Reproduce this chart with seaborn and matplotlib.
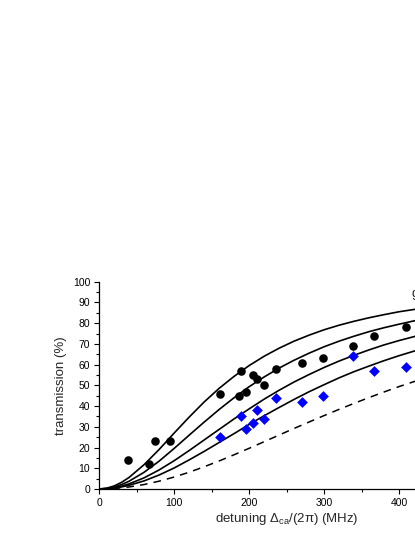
import matplotlib
matplotlib.use("Agg")
import matplotlib.pyplot as plt
import seaborn as sns
from matplotlib.ticker import MultipleLocator

# ---- data ----
curve_x = [0, 10, 20, 30, 40, 60, 80, 100, 120, 140, 160, 180, 200, 220, 240,
           260, 280, 300, 320, 340, 360, 380, 400, 420, 440]
curve1 = [0, 0.37, 1.45, 3.2, 5.55, 11.7, 19.0, 26.9, 34.6, 41.9, 48.5, 54.3, 59.5,
          64.0, 67.9, 71.3, 74.2, 76.8, 79.0, 80.9, 82.6, 84.1, 85.5, 86.6, 87.7]
curve2 = [0, 0.24, 0.96, 2.14, 3.74, 8.03, 13.4, 19.5, 25.9, 32.2, 38.3, 44.0, 49.3,
          54.0, 58.3, 62.1, 65.5, 68.6, 71.3, 73.7, 75.9, 77.8, 79.5, 81.1, 82.4]
curve3 = [0, 0.16, 0.63, 1.40, 2.46, 5.36, 9.16, 13.6, 18.5, 23.6, 28.7, 33.8, 38.6,
          43.3, 47.6, 51.6, 55.2, 58.6, 61.7, 64.5, 67.1, 69.5, 71.6, 73.5, 75.3]
curve4 = [0, 0.11, 0.45, 1.0, 1.77, 3.9, 6.72, 10.1, 14.0, 18.1, 22.4, 26.7, 31.1,
          35.3, 39.3, 43.2, 46.9, 50.3, 53.6, 56.6, 59.3, 61.9, 64.3, 66.5, 68.6]
curve_dashed = [0, 0.06, 0.24, 0.55, 0.97, 2.15, 3.76, 5.75, 8.07, 10.7, 13.5, 16.5, 19.6,
                22.8, 26.0, 29.2, 32.3, 35.4, 38.4, 41.3, 44.1, 46.8, 49.4, 51.8, 54.1]

black_x = [38, 66, 74, 94, 161, 186, 189, 196, 205, 210, 220, 236, 270, 299, 339, 366, 409]
black_y = [14, 12, 23, 23, 46, 45, 57, 47, 55, 53, 50, 58, 61, 63, 69, 74, 78]

blue_x = [161, 189, 196, 205, 210, 220, 236, 270, 299, 339, 366, 409]
blue_y = [25, 35, 29, 32, 38, 34, 44, 42, 45, 64, 57, 59]

x_ticks = [0, 100, 200, 300, 400]
y_ticks = [0, 10, 20, 30, 40, 50, 60, 70, 80, 90, 100]

sns.set_theme(style="ticks")
plt.rcParams['font.family'] = ['Liberation Sans', 'DejaVu Sans']
plt.rcParams['mathtext.fontset'] = 'custom'
plt.rcParams['mathtext.rm'] = 'Liberation Sans'
plt.rcParams['mathtext.it'] = 'Liberation Sans'

fig = plt.figure(figsize=(4.15, 5.37), dpi=100)
ax = fig.add_axes([99 / 415, 48 / 537, 375 / 415, 207.3 / 537])

for c in [curve1, curve2, curve3, curve4]:
    sns.lineplot(x=curve_x, y=c, ax=ax, color="black", linewidth=1.2, sort=False)
sns.lineplot(x=curve_x, y=curve_dashed, ax=ax, color="black", linewidth=1.1,
             linestyle=(0, (5, 4)), sort=False)

sns.scatterplot(x=black_x, y=black_y, ax=ax, color="black", marker="o", s=38,
                edgecolor="black", linewidth=0, zorder=5)
sns.scatterplot(x=blue_x, y=blue_y, ax=ax, color="#0000ff", marker="D", s=30,
                edgecolor="#0000ff", linewidth=0, zorder=5)

ax.set_xlim(0, 500)
ax.set_ylim(0, 100)
ax.set_xticks(x_ticks)
ax.set_yticks(y_ticks)
ax.xaxis.set_minor_locator(MultipleLocator(50))
ax.yaxis.set_minor_locator(MultipleLocator(5))
ax.tick_params(which="major", direction="out", length=3.8, width=0.8, labelsize=7.5,
               pad=2.5, color="black", labelcolor="black")
ax.tick_params(which="minor", direction="out", length=2.2, width=0.8, color="black")

for s in ["top", "right"]:
    ax.spines[s].set_visible(False)
for s in ["left", "bottom"]:
    ax.spines[s].set_linewidth(0.9)
    ax.spines[s].set_color("black")

ax.set_xlabel("detuning Δ$_{\\rm ca}$/(2π) (MHz)", fontsize=9.5, labelpad=2)
ax.set_ylabel("transmission (%)", fontsize=9.5, labelpad=4)
ax.text(417, 94, "g", fontsize=9.5, va="center", ha="left", clip_on=False)

fig.savefig("out.png", dpi=100)
